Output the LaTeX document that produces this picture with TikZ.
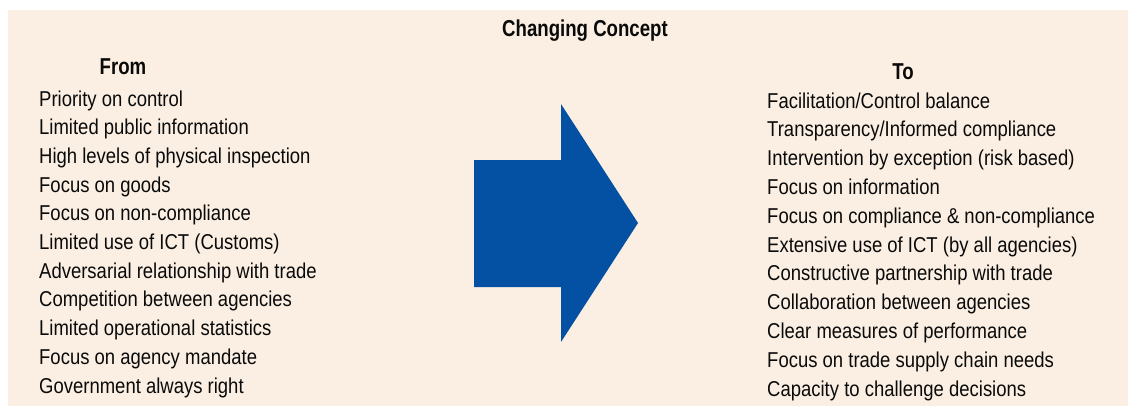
\documentclass[tikz,border=0pt]{standalone}
\usepackage{fontspec}
\setmainfont[FakeStretch=0.86]{Liberation Sans}
\newfontfamily\headfont[FakeStretch=0.81]{Liberation Sans Bold}
\definecolor{bgbeige}{HTML}{FAEFE2}
\definecolor{arrowblue}{HTML}{0450A3}
\definecolor{txt}{HTML}{0A0A0A}
\tikzset{
  item/.style={anchor=base west, inner sep=0pt, text=txt, font=\fontsize{21.5}{24}\selectfont},
  head/.style={anchor=base, inner sep=0pt, text=txt, font=\headfont\fontsize{23}{26}\selectfont},
}
\begin{document}
\begin{tikzpicture}[x=1pt,y=-1pt]
\useasboundingbox (0,0) rectangle (1128,408);
\fill[white] (0,0) rectangle (1128,408);
\fill[bgbeige] (8,10) rectangle (1128,406);
% arrow
\fill[arrowblue] (474,160) -- (561,160) -- (561,104) -- (638,223) -- (561,342) -- (561,287) -- (474,287) -- cycle;
% headings
\node[head] (title) at (585,36) {Changing Concept};
\node[head] (from) at (123,74) {From};
\node[head] (to) at (903,79) {To};
% left items
\foreach \t [count=\i] in {Priority on control,Limited public information,High levels of physical inspection,Focus on goods,Focus on non-compliance,Limited use of ICT (Customs),Adversarial relationship with trade,Competition between agencies,Limited operational statistics,Focus on agency mandate,Government always right}
  \node[item] (l\i) at (39,{106+28.7*(\i-1)}) {\t};
% right items
\foreach \t [count=\i] in {Facilitation/Control balance,Transparency/Informed compliance,Intervention by exception (risk based),Focus on information,Focus on compliance \& non-compliance,Extensive use of ICT (by all agencies),Constructive partnership with trade,Collaboration between agencies,Clear measures of performance,Focus on trade supply chain needs,Capacity to challenge decisions}
  \node[item] (r\i) at (767,{108+28.8*(\i-1)}) {\t};
\end{tikzpicture}
\end{document}
